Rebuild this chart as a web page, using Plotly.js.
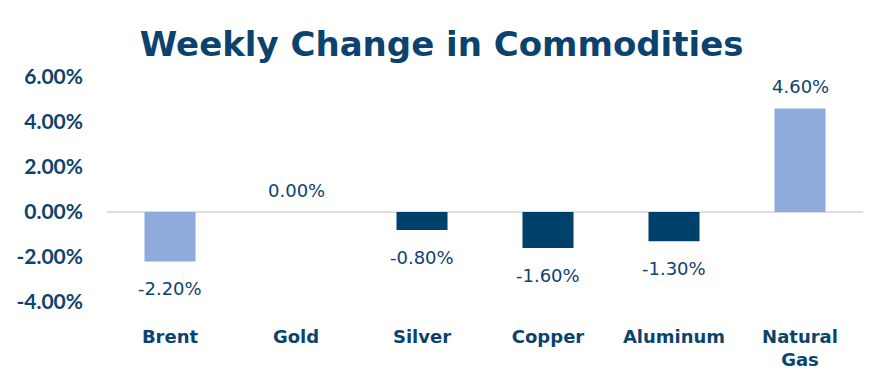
<!DOCTYPE html>
<html>
<head>
<meta charset="utf-8">
<script src="https://cdn.plot.ly/plotly-3.0.1.min.js"></script>
<style>html,body{margin:0;padding:0;background:#fff;}#chart{width:878px;height:386px;}</style>
</head>
<body>
<div id="chart"></div>
<script>
const categories = ["Brent", "Gold", "Silver", "Copper", "Aluminum", "Natural Gas"];
const tickLabels = ["Brent", "Gold", "Silver", "Copper", "Aluminum", "Natural<br>Gas"];
const values = [-2.2, 0.0, -0.8, -1.6, -1.3, 4.6];
const barColors = ["#8faadc", "#8faadc", "#00416b", "#00416b", "#00416b", "#8faadc"];
const yTickVals = [-4, -2, 0, 2, 4, 6];
const yTickText = ["-4.00%", "-2.00%", "0.00%", "2.00%", "4.00%", "6.00%"];

const textColor = "#0c436e";

const trace = {
  type: "bar",
  x: categories,
  y: values,
  marker: { color: barColors },
  hoverinfo: "none"
};

const annotations = categories.map((c, i) => ({
  x: c,
  y: values[i],
  xref: "x",
  yref: "y",
  text: values[i].toFixed(2) + "%",
  showarrow: false,
  yanchor: "middle",
  yshift: values[i] < 0 ? -27 : 22,
  font: { family: "DejaVu Sans, sans-serif", size: 18, color: textColor }
}));

const layout = {
  width: 878,
  height: 386,
  paper_bgcolor: "#ffffff",
  plot_bgcolor: "#ffffff",
  margin: { l: 107, r: 15, t: 77, b: 84 },
  showlegend: false,
  bargap: 0.595,
  title: {
    text: "<b>Weekly Change in Commodities</b>",
    x: 0.503,
    xanchor: "center",
    y: 0.885,
    yanchor: "middle",
    font: { family: "DejaVu Sans, sans-serif", size: 34, color: textColor }
  },
  xaxis: {
    tickmode: "array",
    tickvals: categories,
    ticktext: tickLabels,
    showgrid: false,
    showline: false,
    zeroline: false,
    ticks: "",
    ticklabelstandoff: 22,
    tickfont: { family: "DejaVu Sans, sans-serif", size: 18, color: textColor, weight: "bold" }
  },
  yaxis: {
    range: [-4, 6],
    autorange: false,
    tickmode: "array",
    tickvals: yTickVals,
    ticktext: yTickText,
    showgrid: false,
    showline: false,
    zeroline: true,
    zerolinecolor: "#d9dee9",
    zerolinewidth: 2.5,
    ticks: "",
    ticklabelstandoff: 23,
    tickfont: { family: "Lato, sans-serif", size: 21, color: textColor, weight: "bold" }
  },
  annotations: annotations
};

Plotly.newPlot("chart", [trace], layout, { staticPlot: true, displayModeBar: false });
</script>
</body>
</html>
